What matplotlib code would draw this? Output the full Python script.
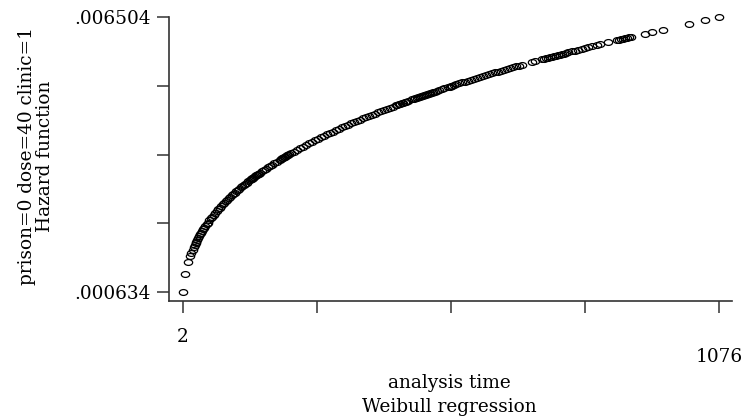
import matplotlib
matplotlib.use("Agg")
import matplotlib.pyplot as plt
import numpy as np
from matplotlib.path import Path

# analysis time (days) of each plotted point
time = [
    2, 7, 13, 17, 19, 22, 24, 26, 28, 29, 31, 33, 35, 37, 39, 41, 43, 45, 47, 50,
    52, 55, 58, 61, 64, 67, 70, 73, 76, 79, 82, 85, 88, 91, 94, 97, 100, 103,
    106, 109, 112, 115, 118, 121, 124, 127, 130, 133,
    136, 138, 140, 141, 143, 145, 147, 149, 150, 152, 154, 156,
    160, 164, 168, 172, 176, 180, 185, 190,
    196, 198, 200, 202, 204, 206, 208, 210, 212, 214,
    218, 224, 230, 236, 242, 248, 254, 260, 266, 272, 278, 284, 290, 296, 302,
    308, 314, 320, 326, 332, 338, 344, 350, 356, 362, 368, 374, 380, 386, 392,
    398, 404, 410, 416, 422,
    428, 431, 434, 437, 440, 443, 446, 449, 452,
    461, 464, 467, 470, 473, 476, 479, 482, 485, 488, 491, 494, 497, 500, 503, 506,
    510, 515, 520, 525,
    533, 536, 539, 542, 545,
    550, 556, 562, 568, 574, 580, 586, 592, 598, 604, 610, 616, 622, 628, 634,
    640, 646, 652, 658, 664, 670, 676, 682,
    701, 707,
    721, 725, 729, 733, 737, 741, 745, 749, 753, 757, 761, 765, 769,
    774, 782, 788, 794, 802, 808, 814, 822, 832, 838, 854,
    872, 876, 880, 884, 888, 892, 896, 900,
    928, 942, 964, 1016, 1048, 1076,
]

# hazard values (x 1e-3)
hazard_e3 = [
    0.634, 1.008, 1.267, 1.400, 1.458, 1.540, 1.590, 1.638, 1.683, 1.705,
    1.748, 1.789, 1.828, 1.866, 1.903, 1.939, 1.973, 2.007, 2.039, 2.086,
    2.117, 2.161, 2.204, 2.245, 2.286, 2.325, 2.363, 2.400, 2.436, 2.471,
    2.505, 2.539, 2.572, 2.604, 2.635, 2.666, 2.696, 2.726, 2.755, 2.783,
    2.811, 2.839, 2.867, 2.893, 2.919, 2.946, 2.971, 2.996,
    3.021, 3.037, 3.053, 3.062, 3.077, 3.093, 3.109, 3.125, 3.132, 3.148,
    3.163, 3.178,
    3.208, 3.238, 3.267, 3.295, 3.323, 3.351, 3.385, 3.419,
    3.458, 3.471, 3.484, 3.497, 3.510, 3.522, 3.535, 3.548, 3.560, 3.573,
    3.597, 3.633, 3.669, 3.704, 3.739, 3.773, 3.806, 3.840, 3.872, 3.904,
    3.936, 3.967, 3.998, 4.028, 4.058, 4.088, 4.117, 4.146, 4.175, 4.203,
    4.231, 4.258, 4.286, 4.313, 4.340, 4.366, 4.392, 4.418, 4.444, 4.469,
    4.495, 4.519, 4.544, 4.569, 4.593,
    4.617, 4.629, 4.641, 4.653, 4.664, 4.676, 4.688, 4.699, 4.711,
    4.746, 4.757, 4.768, 4.780, 4.791, 4.802, 4.813, 4.824, 4.835, 4.846,
    4.858, 4.868, 4.880, 4.890, 4.901, 4.912,
    4.926, 4.944, 4.962, 4.980,
    5.007, 5.018, 5.028, 5.038, 5.049,
    5.066, 5.086, 5.107, 5.127, 5.147, 5.166, 5.186, 5.206, 5.225, 5.244,
    5.264, 5.283, 5.302, 5.320, 5.339, 5.358, 5.376, 5.395, 5.413, 5.432,
    5.450, 5.468, 5.486,
    5.542, 5.559,
    5.600, 5.611, 5.623, 5.634, 5.646, 5.657, 5.668, 5.679, 5.690, 5.702,
    5.713, 5.724, 5.735,
    5.749, 5.771, 5.787, 5.803, 5.825, 5.841, 5.857, 5.878, 5.904, 5.921,
    5.962,
    6.008, 6.018, 6.028, 6.039, 6.048, 6.058, 6.068, 6.079,
    6.148, 6.182, 6.235, 6.357, 6.431, 6.504,
]

x_ticks = [2, 270.5, 539, 807.5, 1076]
x_labels = ["2", "", "", "", ""]
y_ticks = [0.000634, 0.0021015, 0.003569, 0.0050365, 0.006504]
y_labels = [".000634", "", "", "", ".006504"]

hazard = np.array(hazard_e3) * 1e-3

plt.rcParams["font.family"] = ["DejaVu Serif"]
fs = 13.3

fig = plt.figure(figsize=(7.46, 4.19), dpi=100)
ax = fig.add_axes([169 / 746, 118 / 419, 563 / 746, 284 / 419])

# slightly squashed hollow circle, as in the original
circ = Path.unit_circle()
ellipse = Path(circ.vertices * np.array([1.0, 0.7]), circ.codes)

ax.plot(time, hazard, linestyle="none", marker=ellipse, markersize=6.0,
        markerfacecolor="none", markeredgecolor="black", markeredgewidth=0.9,
        clip_on=False)

ax.set_xlim(-26, 1102)
ax.set_ylim(0.000442, 0.006504)

ax.spines["top"].set_visible(False)
ax.spines["right"].set_visible(False)
for s in ("left", "bottom"):
    ax.spines[s].set_color("#333333")
    ax.spines[s].set_linewidth(1.2)

ax.set_xticks(x_ticks, x_labels)
ax.set_yticks(y_ticks, y_labels)
ax.tick_params(axis="x", length=8.5, width=1.1, color="#333333", labelsize=fs, pad=11)
ax.tick_params(axis="y", length=8.5, width=1.1, color="#333333", labelsize=fs, pad=5)

# the last x label sits lower than the first
ax.text(1076, -0.197, "1076", transform=ax.get_xaxis_transform(),
        ha="center", va="center", fontsize=fs)

fig.text(449 / 746, 1 - 395 / 419, "analysis time\nWeibull regression",
         ha="center", va="center", fontsize=fs, linespacing=1.4)
fig.text(36 / 746, 1 - 156 / 419, "prison=0 dose=40 clinic=1\nHazard function",
         ha="center", va="center", rotation=90, fontsize=fs, linespacing=1.0)

fig.savefig("out.png", dpi=100)
